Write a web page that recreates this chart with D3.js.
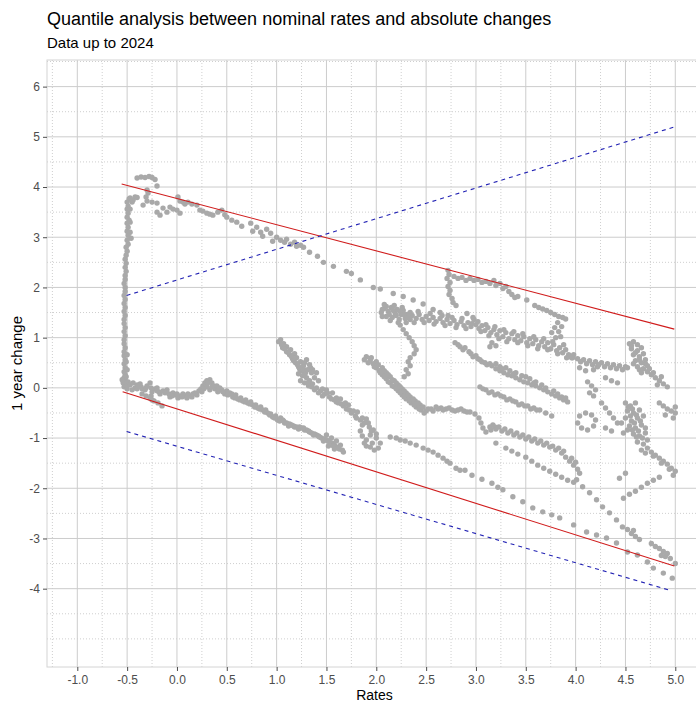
<!DOCTYPE html>
<html>
<head>
<meta charset="utf-8">
<script src="https://cdn.jsdelivr.net/npm/d3@7"></script>
<style>
  body { margin: 0; background: #ffffff; }
  svg { display: block; }
  text { font-family: "Liberation Sans", Arial, sans-serif; }
</style>
</head>
<body>
<svg id="chart" width="696" height="702"></svg>
<script>
// ---- Observations: [rate, 1 year change], grouped by stretch of the series ----
const riseLeg = [
  [-0.53,0.02],[-0.52,0.06],[-0.54,0.10],[-0.52,0.15],[-0.53,0.20],[-0.52,0.26],[-0.53,0.32],[-0.52,0.40],
  [-0.53,0.48],[-0.52,0.56],[-0.53,0.64],[-0.53,0.72],[-0.52,0.80],[-0.53,0.88],[-0.53,0.96],[-0.52,1.04],
  [-0.53,1.12],[-0.52,1.20],[-0.53,1.28],[-0.53,1.36],[-0.52,1.44],[-0.53,1.52],[-0.52,1.60],[-0.53,1.68],
  [-0.52,1.76],[-0.53,1.84],[-0.52,1.92],[-0.52,2.00],[-0.53,2.08],[-0.52,2.16],[-0.52,2.24],[-0.51,2.32],
  [-0.52,2.40],[-0.51,2.48],[-0.52,2.56],[-0.51,2.64],[-0.50,2.72],[-0.51,2.80],[-0.49,2.86],[-0.50,2.94],
  [-0.46,2.98],[-0.49,3.04],[-0.50,3.12],[-0.49,3.20],[-0.50,3.28],[-0.48,3.34],[-0.50,3.40],[-0.49,3.48],
  [-0.50,3.56],[-0.49,3.62],[-0.50,3.70],[-0.48,3.76],
  [-0.50,0.08],[-0.51,0.22],[-0.50,0.36],[-0.51,0.52],[-0.50,0.66],[-0.47,3.10],[-0.47,3.30],[-0.47,3.56]
];

const upperLeg = [
  [-0.47,3.78],[-0.45,3.70],[-0.44,3.74],[-0.42,3.80],[-0.40,3.79],
  [-0.40,4.18],[-0.36,4.20],[-0.32,4.19],[-0.28,4.21],[-0.25,4.19],[-0.22,4.15],[-0.20,4.02],
  [-0.30,3.94],[-0.29,3.88],[-0.31,3.80],[-0.34,3.64],[-0.30,3.72],[-0.25,3.70],[-0.20,3.68],[-0.20,3.50],
  [-0.17,3.44],[-0.14,3.58],[-0.10,3.50],[-0.07,3.60],[-0.04,3.56],[0.00,3.54],[0.01,3.80],[0.03,3.48],
  [0.03,3.72],[0.06,3.70],[0.08,3.66],[0.11,3.70],[0.15,3.66],[0.20,3.64],[0.23,3.54],[0.26,3.52],
  [0.30,3.48],[0.33,3.46],[0.36,3.44],[0.41,3.50],[0.45,3.54],[0.48,3.45],[0.50,3.40],[0.55,3.34],
  [0.60,3.30],[0.65,3.22],
  [0.74,3.28],[0.76,3.12],[0.80,3.20],[0.84,3.10],[0.86,3.02],[0.90,3.16],[0.94,3.08],[0.96,2.92],
  [1.00,3.00],[1.04,2.94],[1.08,2.90],[1.10,2.96],[1.14,2.86],[1.18,2.90],[1.20,2.82],[1.24,2.84],[1.27,2.80],
  [1.33,2.70],[1.41,2.62],[1.47,2.50],[1.57,2.42],[1.70,2.32],[1.75,2.28],[1.84,2.15],[1.97,2.00],
  [2.04,1.97],[2.17,1.88],[2.27,1.82],[2.37,1.75],[2.47,1.67],
  [2.57,1.56],[2.64,1.50],[2.72,1.44],[2.91,1.48],[2.97,1.40]
];

const floorLeg = [
  [-0.55,0.16],[-0.53,0.08],[-0.51,0.04],[-0.49,0.12],[-0.47,0.06],[-0.44,0.10],[-0.42,0.00],[-0.40,0.06],
  [-0.37,0.08],[-0.35,-0.02],[-0.32,-0.04],[-0.30,0.04],[-0.27,0.10],[-0.26,0.00],[-0.25,-0.08],[-0.26,-0.16],
  [-0.25,-0.24],[-0.22,-0.02],[-0.20,0.00],[-0.18,-0.08],[-0.17,-0.12],[-0.14,-0.06],[-0.10,-0.04],[-0.08,-0.12],
  [-0.07,-0.18],[-0.04,-0.10],[-0.02,-0.14],[0.01,-0.20],[0.03,-0.16],[0.06,-0.12],[0.08,-0.16],[0.10,-0.20],
  [0.13,-0.16],[0.16,-0.12],[0.20,-0.14],[0.22,-0.06],[0.24,-0.02],[0.26,0.04],[0.28,0.10],[0.30,0.14],
  [0.33,0.16],[0.35,0.10],[0.37,0.04],[0.33,-0.04],[0.30,0.02],[0.38,-0.02],[0.41,-0.08],[0.43,0.00],
  [0.45,-0.04],[0.48,-0.12],[0.50,-0.06],[0.53,-0.10],[0.56,-0.18],[0.59,-0.14],[0.61,-0.22],[0.64,-0.20],
  [0.66,-0.26],[0.69,-0.24],[0.71,-0.30],[0.74,-0.28],[0.76,-0.34],[0.79,-0.34],[0.81,-0.40],[0.84,-0.38],
  [0.86,-0.44],[0.89,-0.44],[0.91,-0.50],[0.94,-0.52],[0.96,-0.58],[0.99,-0.56],[1.01,-0.64],[1.04,-0.60],
  [1.06,-0.64],[1.08,-0.70],[1.10,-0.70],[1.13,-0.72],[1.15,-0.74],[1.18,-0.78],[1.20,-0.78],[1.23,-0.78],
  [1.25,-0.80],[1.28,-0.84],[1.30,-0.84],[1.33,-0.88],[1.35,-0.90],[1.38,-0.92],[1.40,-0.94],[1.43,-0.98],
  [1.45,-1.00],[1.48,-1.02],[1.50,-1.04],[1.53,-1.08],[1.56,-1.10],[1.58,-1.14],[1.61,-1.18],[1.63,-1.22],
  [1.66,-1.24],[1.50,-0.94],[1.55,-1.00],[1.60,-1.06],[1.52,-1.16],[1.58,-1.22],[1.64,-1.14],
  [-0.35,-0.12],[-0.31,-0.16],[-0.27,-0.20],[-0.23,-0.26],[-0.19,-0.30],[-0.15,-0.36]
];

const floorLower = [
  [-0.50,-0.02],[-0.45,-0.04],[-0.40,-0.02],[-0.36,0.02],[-0.31,0.00],[-0.20,-0.06],[-0.12,-0.10],[-0.05,-0.16],
  [0.00,-0.12],[0.05,-0.18],[0.11,-0.12],[0.15,-0.18],[0.18,-0.10],[0.25,-0.08],[0.27,-0.02],[0.29,0.08],
  [0.31,0.10],[0.35,0.02],[0.40,0.04],[0.42,-0.04],[0.46,-0.08],[0.51,-0.14],[0.55,-0.12],[0.58,-0.20],
  [0.63,-0.24],[0.68,-0.28],[0.73,-0.32],[0.78,-0.38],[0.83,-0.42],[0.88,-0.48],[0.93,-0.54],[0.98,-0.60],
  [1.03,-0.66],[1.07,-0.66],[1.12,-0.76],[1.17,-0.76],[1.22,-0.82],[1.27,-0.80],[1.32,-0.86],[1.37,-0.94],
  [1.42,-0.96],[1.47,-1.06],[1.52,-1.06],[1.57,-1.16],[1.62,-1.20],[1.67,-1.28]
];

const floorTail = [
  [2.14,-0.98],[2.20,-1.00],[2.24,-1.04],[2.29,-1.06],[2.34,-1.10],[2.40,-1.14],[2.47,-1.20],[2.52,-1.24],
  [2.57,-1.28],[2.62,-1.34],[2.67,-1.40],[2.71,-1.46],[2.74,-1.50],[2.80,-1.60],[2.84,-1.64],[2.89,-1.64],
  [2.96,-1.74],[3.06,-1.82],[3.16,-1.90],[3.22,-1.98],[3.27,-2.03],[3.37,-2.17],[3.47,-2.27],[3.57,-2.39],
  [3.67,-2.47],[3.76,-2.53],[3.84,-2.59],[3.98,-2.73],[4.11,-2.87],[4.21,-2.93],[4.31,-2.99],[4.41,-3.09],
  [4.52,-3.27],[4.62,-3.33],[4.72,-3.47],[4.78,-3.59],[4.88,-3.69],[4.97,-3.79]
];

const strandB = [
  [1.04,0.96],[1.07,0.88],[1.06,0.80],[1.10,0.82],[1.10,0.72],[1.13,0.66],[1.14,0.76],[1.16,0.58],
  [1.18,0.68],[1.19,0.50],[1.20,0.60],[1.22,0.42],[1.24,0.52],[1.25,0.34],[1.27,0.44],[1.26,0.24],
  [1.29,0.30],[1.24,0.14],[1.28,0.10],[1.30,0.20],[1.33,0.14],[1.32,0.04],[1.36,0.08],[1.38,0.20],
  [1.40,0.30],[1.36,0.36],[1.33,0.46],[1.30,0.56],[1.42,0.14],[1.40,0.00],[1.44,-0.06],[1.48,-0.12],
  [1.50,-0.04],[1.53,-0.18],[1.56,-0.10],[1.58,-0.24],[1.62,-0.30],[1.64,-0.22],[1.67,-0.36],[1.70,-0.42],
  [1.72,-0.34],[1.75,-0.50],[1.79,-0.56],[1.81,-0.48],[1.84,-0.64],[1.88,-0.70],[1.90,-0.62],[1.93,-0.78],
  [1.97,-0.84],[1.84,-0.86],[1.86,-0.96],[1.90,-1.04],[1.94,-0.94],[1.96,-1.10],[2.00,-1.00],[2.02,-1.20],
  [1.98,-1.24],[1.90,-1.16]
];

const strandBEdge = [
  [1.02,0.92],[1.05,0.86],[1.08,0.78],[1.12,0.70],[1.15,0.62],[1.17,0.54],[1.21,0.46],[1.23,0.38],
  [1.27,0.36],[1.22,0.28],[1.28,0.26],[1.31,0.10],[1.35,0.02],[1.38,-0.04],[1.42,-0.10],[1.46,-0.02],
  [1.46,-0.16],[1.51,-0.10],[1.55,-0.22],[1.60,-0.20],[1.60,-0.28],[1.65,-0.32],[1.69,-0.30],[1.73,-0.44],
  [1.77,-0.46],[1.80,-0.60],[1.86,-0.60],[1.86,-0.74],[1.92,-0.70],[1.95,-0.86],[2.00,-0.92],[1.88,-1.10],
  [1.94,-1.18],[2.04,-1.10],[1.35,0.30],[1.34,0.40],[1.28,0.50],[1.31,0.36]
];

const strandC = [
  [1.90,0.62],[1.94,0.56],[1.92,0.50],[1.97,0.48],[2.00,0.52],[2.00,0.40],[2.03,0.34],[2.06,0.40],
  [2.06,0.26],[2.10,0.30],[2.10,0.18],[2.14,0.22],[2.14,0.10],[2.18,0.14],[2.18,0.02],[2.22,0.06],
  [2.22,-0.06],[2.26,-0.02],[2.26,-0.14],[2.30,-0.10],[2.30,-0.22],[2.34,-0.18],[2.35,-0.30],[2.39,-0.26],
  [2.40,-0.38],[2.44,-0.34],[2.45,-0.44],[2.50,-0.46],[2.55,-0.42],[2.60,-0.38],[2.65,-0.40],[2.70,-0.42],
  [2.76,-0.44],[2.82,-0.44],[2.88,-0.46],[2.94,-0.48],[2.99,-0.52],[3.03,-0.60],[3.05,-0.70],[3.07,-0.80],
  [3.10,-0.88],[3.15,-0.84],[3.19,-0.78]
];

const strandCEdge = [
  [1.88,0.56],[1.95,0.60],[1.98,0.42],[2.02,0.46],[2.04,0.30],[2.08,0.34],[2.08,0.22],[2.12,0.26],
  [2.12,0.12],[2.16,0.16],[2.16,0.04],[2.20,0.10],[2.20,-0.02],[2.24,0.02],[2.24,-0.10],[2.28,-0.06],
  [2.28,-0.18],[2.32,-0.14],[2.33,-0.26],[2.37,-0.22],[2.38,-0.34],[2.42,-0.30],[2.43,-0.42],[2.47,-0.38],
  [2.48,-0.50],[2.52,-0.42],[2.57,-0.46],[2.62,-0.42],[2.67,-0.44],[2.73,-0.40],[2.79,-0.46],[2.85,-0.42],
  [2.91,-0.48]
];

const strandD = [
  [2.24,1.25],[2.27,1.16],[2.30,1.08],[2.33,1.00],[2.36,0.92],[2.38,0.84],[2.40,0.76],[2.38,0.68],
  [2.34,0.60],[2.32,0.52],[2.34,0.44],[2.30,0.36],[2.32,0.28],[2.28,0.22]
];

const strandF = [
  [2.72,2.34],[2.73,2.26],[2.71,2.18],[2.74,2.10],[2.72,2.02],[2.74,1.94],[2.73,1.86],[2.76,1.78],
  [2.77,1.70],[2.80,1.64],
  [2.78,2.22],[2.82,2.18],[2.86,2.20],[2.90,2.14],[2.94,2.18],[2.98,2.14],[3.02,2.16],[3.06,2.10],
  [3.10,2.12],[3.14,2.08],[3.18,2.14],[3.20,2.04],[3.24,2.08],[3.27,1.98],[3.30,2.02],[3.33,1.92],
  [3.36,1.86],[3.39,1.80],[3.42,1.82]
];

const bandE = [
  [2.05,1.50],[2.08,1.58],[2.10,1.42],[2.12,1.52],[2.15,1.60],[2.16,1.40],[2.19,1.48],[2.21,1.56],
  [2.23,1.36],[2.25,1.46],[2.27,1.54],[2.29,1.38],[2.31,1.46],[2.34,1.36],[2.36,1.44],[2.40,1.38],
  [2.43,1.46],[2.46,1.36],[2.50,1.42],[2.53,1.34],[2.57,1.40],[2.60,1.32],[2.64,1.38],[2.67,1.30],
  [2.71,1.36],[2.74,1.28],[2.78,1.34],[2.81,1.26],[2.85,1.32],[2.88,1.24],[2.92,1.30],[2.95,1.22],
  [2.98,1.36],[3.00,1.26],[3.03,1.18],[3.06,1.24],[3.09,1.14],[3.12,1.20],[3.15,1.10],[3.18,1.16],
  [3.21,1.06],[3.24,1.14],[3.27,1.02],[3.30,1.10],[3.33,0.98],[3.36,1.08],[3.39,0.96],[3.42,1.04],
  [3.45,0.94],[3.48,1.02],[3.51,0.90],[3.54,0.98],[3.57,0.88],[3.60,0.96],[3.63,0.84],[3.66,0.92],
  [3.69,0.82],[3.72,0.90],[3.75,0.78],[3.78,0.86],[3.81,0.74],[3.84,0.80],[3.87,0.70],[3.90,0.76],
  [3.93,0.66],[3.96,0.60],
  [3.16,0.90],[3.20,0.84],[3.14,0.82],
  [3.76,1.10],[3.79,1.20],[3.82,1.30],[3.83,1.12],[3.86,1.22],[3.80,1.00],[3.85,1.02],
  [3.59,1.64],[3.63,1.60],[3.67,1.57],[3.71,1.54],[3.75,1.50],[3.79,1.46],[3.83,1.42],[3.87,1.40],
  [3.90,1.37],[3.51,1.75],
  [2.06,1.42],[2.10,1.62],[2.13,1.46],[2.17,1.54],[2.20,1.44],[2.24,1.52],[2.28,1.46],[2.32,1.40],[2.06,1.56]
];

const bandEEdge = [
  [2.08,1.66],[2.14,1.34],[2.18,1.64],[2.22,1.30],[2.26,1.60],[2.30,1.30],[2.34,1.50],[2.38,1.30],
  [2.42,1.52],[2.48,1.30],[2.54,1.48],[2.58,1.27],[2.66,1.44],[2.69,1.24],[2.76,1.40],[2.80,1.20],
  [2.86,1.38],[2.90,1.18],[2.96,1.28],[3.02,1.32],[3.05,1.12],[3.10,1.26],[3.13,1.04],[3.19,1.22],
  [3.23,0.98],[3.28,1.16],[3.31,0.92],[3.38,1.12],[3.42,0.90],[3.47,1.08],[3.52,0.84],[3.58,1.02],
  [3.62,0.78],[3.68,0.98],[3.72,0.76],[3.77,0.92],[3.82,0.68],[3.88,0.86],[3.91,0.60],[3.98,0.66]
];

const bandG = [
  [2.79,0.90],[2.84,0.82],[2.89,0.80],[2.93,0.72],[2.97,0.62],[3.02,0.58],[3.06,0.52],[3.11,0.46],
  [3.16,0.44],[3.20,0.38],[3.24,0.34],[3.28,0.30],[3.32,0.26],[3.36,0.24],[3.40,0.20],[3.44,0.16],
  [3.48,0.12],[3.52,0.10],[3.56,0.06],[3.60,0.04],[3.64,0.00],[3.68,-0.04],[3.72,-0.08],[3.76,-0.12],
  [3.80,-0.16],[3.84,-0.20],[3.88,-0.24],[3.92,-0.28],
  [3.20,0.48],[3.30,0.40],[3.40,0.30],[3.50,0.22],[3.60,0.12],
  [2.82,0.86],[2.87,0.76],[2.95,0.68],[3.00,0.64],[3.04,0.56],[3.09,0.50],[3.14,0.48],[3.24,0.42],
  [3.26,0.38],[3.34,0.34],[3.38,0.28],[3.46,0.24],[3.54,0.18],[3.58,0.10],[3.66,0.06],[3.70,0.00],
  [3.78,-0.06],[3.82,-0.12],[3.86,-0.18],[3.90,-0.20]
];

const bandFork = [
  [3.04,0.02],[3.10,-0.04],[3.16,-0.08],[3.22,-0.12],[3.28,-0.18],[3.34,-0.22],[3.40,-0.28],[3.46,-0.32],
  [3.52,-0.36],[3.58,-0.40],[3.64,-0.44],[3.70,-0.50],[3.76,-0.56],
  [3.07,-0.02],[3.13,-0.10],[3.19,-0.14],[3.25,-0.16],[3.31,-0.24],[3.37,-0.26],[3.43,-0.34],[3.49,-0.36],
  [3.55,-0.42],[3.61,-0.44]
];

const bandH1 = [
  [3.14,-0.78],[3.20,-0.82],[3.26,-0.86],[3.32,-0.90],[3.38,-0.94],[3.44,-0.98],[3.50,-1.02],[3.56,-1.06],
  [3.62,-1.10],[3.68,-1.14],[3.74,-1.18],[3.80,-1.24],[3.86,-1.30],[3.90,-1.38],[3.94,-1.46],[3.98,-1.54],
  [4.02,-1.62],[3.96,-1.40],[4.00,-1.48],[4.04,-1.70],
  [3.17,-0.74],[3.23,-0.78],[3.29,-0.82],[3.35,-0.86],[3.41,-0.90],[3.47,-0.94],[3.53,-0.98],[3.59,-1.02],
  [3.65,-1.06],[3.71,-1.10],[3.77,-1.16],[3.83,-1.20],[3.88,-1.26]
];

const bandH2 = [
  [3.20,-1.10],[3.30,-1.20],[3.36,-1.26],[3.42,-1.32],[3.50,-1.38],[3.56,-1.46],[3.62,-1.54],[3.68,-1.60],
  [3.74,-1.66],[3.80,-1.72],[3.86,-1.78],[3.92,-1.84],[3.98,-1.88],[4.01,-1.83],
  [4.07,-1.97],[4.14,-2.09],[4.21,-2.23],[4.27,-2.37],[4.34,-2.49],[4.41,-2.63],[4.47,-2.77],[4.52,-2.82],
  [4.56,-2.90],[4.60,-2.96],[4.64,-3.02],[4.58,-2.84],[4.76,-3.10],[4.80,-3.16],[4.84,-3.20],[4.88,-3.26],
  [4.92,-3.30],[4.86,-3.34],[4.90,-3.36],[4.95,-3.40],[5.00,-3.50]
];

const rightUpper = [
  [3.97,0.60],[4.02,0.58],[4.08,0.56],[4.14,0.54],[4.20,0.52],[4.26,0.50],[4.32,0.48],[4.38,0.46],
  [4.44,0.44],[4.50,0.42],[4.04,0.40],[4.10,0.34],[4.18,0.36],[4.22,0.42],
  [4.54,0.88],[4.58,0.92],[4.62,0.86],[4.56,0.78],[4.62,0.74],[4.66,0.80],[4.58,0.66],[4.64,0.62],
  [4.68,0.68],[4.60,0.54],[4.66,0.50],[4.70,0.56],[4.62,0.42],[4.68,0.38],[4.72,0.44],[4.66,0.30],
  [4.72,0.32],[4.76,0.26],[4.80,0.20],[4.84,0.14],[4.88,0.08],[4.92,0.02],[4.82,0.06],[4.78,0.30],
  [4.86,0.22],[4.30,0.20],[4.36,0.14],[4.42,0.10],
  [4.12,0.12],[4.16,0.04],[4.20,-0.04],[4.14,-0.10],[4.18,-0.16],
  [4.05,0.52],[4.11,0.48],[4.17,0.46],[4.23,0.46],[4.29,0.42],[4.35,0.40],[4.41,0.38],[4.47,0.36],
  [4.56,0.84],[4.60,0.70],[4.64,0.56],[4.58,0.48],[4.70,0.48],[4.74,0.38],[4.64,0.36],[4.52,0.40]
];

const rightLower = [
  [4.04,-0.56],[4.10,-0.50],[4.16,-0.54],[4.20,-0.64],[4.18,-0.76],[4.12,-0.84],[4.06,-0.80],[4.02,-0.70],
  [4.26,-0.30],[4.30,-0.40],[4.34,-0.50],[4.38,-0.60],[4.42,-0.70],[4.30,-0.80],[4.36,-0.86],
  [4.50,-0.30],[4.55,-0.36],[4.60,-0.30],[4.52,-0.46],[4.58,-0.50],[4.64,-0.44],[4.50,-0.60],[4.56,-0.66],
  [4.62,-0.60],[4.68,-0.56],[4.54,-0.76],[4.60,-0.80],[4.66,-0.74],[4.58,-0.92],[4.64,-0.96],[4.70,-0.90],
  [4.62,-1.08],[4.68,-1.12],[4.72,-1.04],[4.48,-0.90],[4.46,-0.70],
  [4.53,-0.38],[4.57,-0.42],[4.61,-0.54],[4.55,-0.56],[4.65,-0.66],[4.59,-0.70],[4.57,-0.84],[4.63,-0.86],
  [4.67,-1.00],[4.61,-0.98],[4.70,-0.80],[4.52,-0.84],
  [4.72,-1.20],[4.76,-1.28],[4.80,-1.34],[4.84,-1.40],[4.88,-1.46],[4.92,-1.52],[4.96,-1.60],[5.00,-1.66],
  [4.98,-1.74],[4.70,-1.30],[4.66,-1.24],[4.78,-1.36],[4.86,-1.50],[4.94,-1.62],
  [4.84,-0.30],[4.88,-0.36],[4.92,-0.42],[4.96,-0.46],[5.00,-0.50],[4.98,-0.60],[4.90,-0.54],[5.00,-0.38],
  [4.48,-2.20],[4.54,-2.12],[4.60,-2.06],[4.66,-1.98],[4.72,-1.90],[4.78,-1.84],[4.84,-1.78],[4.50,-1.70],
  [4.44,-1.80]
];

// ---- Fitted quantile lines: [rate, change] at each end ----
const upperQuantile = [[-0.555, 4.06], [4.99, 1.17]];
const lowerQuantile = [[-0.545, -0.076], [4.99, -3.55]];
const upperBand = [[-0.505, 1.84], [4.98, 5.19]];
const lowerBand = [[-0.505, -0.87], [4.96, -4.04]];

// ---- Axis breaks and text ----
const xBreaks = [-1.0, -0.5, 0.0, 0.5, 1.0, 1.5, 2.0, 2.5, 3.0, 3.5, 4.0, 4.5, 5.0];
const xMinor = [-1.25, -0.75, -0.25, 0.25, 0.75, 1.25, 1.75, 2.25, 2.75, 3.25, 3.75, 4.25, 4.75, 5.25];
const yBreaks = [-4, -3, -2, -1, 0, 1, 2, 3, 4, 5, 6];
const yMinor = [-5, -4.5, -3.5, -2.5, -1.5, -0.5, 0.5, 1.5, 2.5, 3.5, 4.5, 5.5, 6.5];
const titleText = "Quantile analysis between nominal rates and absolute changes";
const subtitleText = "Data up to 2024";
const xTitle = "Rates";
const yTitle = "1 year change";

// ---- Layout ----
const svg = d3.select("#chart");
const panel = { left: 47, top: 60, right: 702, bottom: 667 };

const x = d3.scaleLinear().domain([-1.304, 5.268]).range([panel.left, panel.right]);
const y = d3.scaleLinear().domain([-5.56, 6.53]).range([panel.bottom, panel.top]);

svg.append("defs").append("clipPath").attr("id", "panel-clip")
  .append("rect")
  .attr("x", panel.left).attr("y", panel.top)
  .attr("width", panel.right - panel.left).attr("height", panel.bottom - panel.top);

const grid = svg.append("g");

// minor grid (dotted)
grid.selectAll(".vminor").data(xMinor).join("line")
  .attr("x1", d => x(d)).attr("x2", d => x(d))
  .attr("y1", panel.top).attr("y2", panel.bottom)
  .attr("stroke", "#cfcfcf").attr("stroke-width", 1).attr("stroke-dasharray", "1,2");
grid.selectAll(".hminor").data(yMinor).join("line")
  .attr("x1", panel.left).attr("x2", panel.right)
  .attr("y1", d => y(d)).attr("y2", d => y(d))
  .attr("stroke", "#cfcfcf").attr("stroke-width", 1).attr("stroke-dasharray", "1,2");

// major grid (solid)
grid.selectAll(".vmajor").data(xBreaks).join("line")
  .attr("x1", d => x(d)).attr("x2", d => x(d))
  .attr("y1", panel.top).attr("y2", panel.bottom)
  .attr("stroke", "#cccccc").attr("stroke-width", 1);
grid.selectAll(".hmajor").data(yBreaks).join("line")
  .attr("x1", panel.left).attr("x2", panel.right)
  .attr("y1", d => y(d)).attr("y2", d => y(d))
  .attr("stroke", "#cccccc").attr("stroke-width", 1);

// panel border
svg.append("rect")
  .attr("x", panel.left).attr("y", panel.top)
  .attr("width", panel.right - panel.left).attr("height", panel.bottom - panel.top)
  .attr("fill", "none").attr("stroke", "#d4d4d4").attr("stroke-width", 1);

// points
const observations = [].concat(
  riseLeg, upperLeg, floorLeg, floorLower, floorTail, strandB, strandBEdge, strandC, strandCEdge,
  strandD, strandF, bandE, bandEEdge, bandG, bandFork, bandH1, bandH2, rightUpper, rightLower
);
const plot = svg.append("g").attr("clip-path", "url(#panel-clip)");
plot.append("g").selectAll("circle").data(observations).join("circle")
  .attr("cx", d => x(d[0])).attr("cy", d => y(d[1]))
  .attr("r", 2.7).attr("fill", "#a9a9a9");

// quantile lines
const line = d3.line().x(d => x(d[0])).y(d => y(d[1]));
[upperQuantile, lowerQuantile].forEach(seg => {
  plot.append("path").attr("d", line(seg))
    .attr("fill", "none").attr("stroke", "#d01c1c").attr("stroke-width", 1.1);
});
[upperBand, lowerBand].forEach(seg => {
  plot.append("path").attr("d", line(seg))
    .attr("fill", "none").attr("stroke", "#2323b4").attr("stroke-width", 1.1)
    .attr("stroke-dasharray", "4,4");
});

// axes
const fmtX = d => d.toFixed(1);
const fmtY = d => String(d);

const xAxis = svg.append("g")
  .attr("transform", `translate(0,${panel.bottom})`)
  .call(d3.axisBottom(x).tickValues(xBreaks).tickFormat(fmtX).tickSize(4).tickPadding(4));
const yAxis = svg.append("g")
  .attr("transform", `translate(${panel.left},0)`)
  .call(d3.axisLeft(y).tickValues(yBreaks).tickFormat(fmtY).tickSize(4).tickPadding(3));

[xAxis, yAxis].forEach(a => {
  a.select(".domain").remove();
  a.selectAll(".tick line").attr("stroke", "#4d4d4d");
  a.selectAll(".tick text")
    .style("fill", "#4d4d4d")
    .style("font-family", "'Liberation Sans', Arial, sans-serif")
    .style("font-size", "12px");
});

// titles
svg.append("text").attr("x", 47).attr("y", 25)
  .style("font-size", "18px").attr("fill", "#000").text(titleText);
svg.append("text").attr("x", 47).attr("y", 48)
  .style("font-size", "15px").attr("fill", "#000").text(subtitleText);

svg.append("text")
  .attr("x", (panel.left + panel.right) / 2).attr("y", 700)
  .attr("text-anchor", "middle")
  .style("font-size", "14px").attr("fill", "#000").text(xTitle);
svg.append("text")
  .attr("transform", `translate(22,${(panel.top + panel.bottom) / 2}) rotate(-90)`)
  .attr("text-anchor", "middle")
  .style("font-size", "15px").attr("fill", "#000").text(yTitle);
</script>
</body>
</html>
